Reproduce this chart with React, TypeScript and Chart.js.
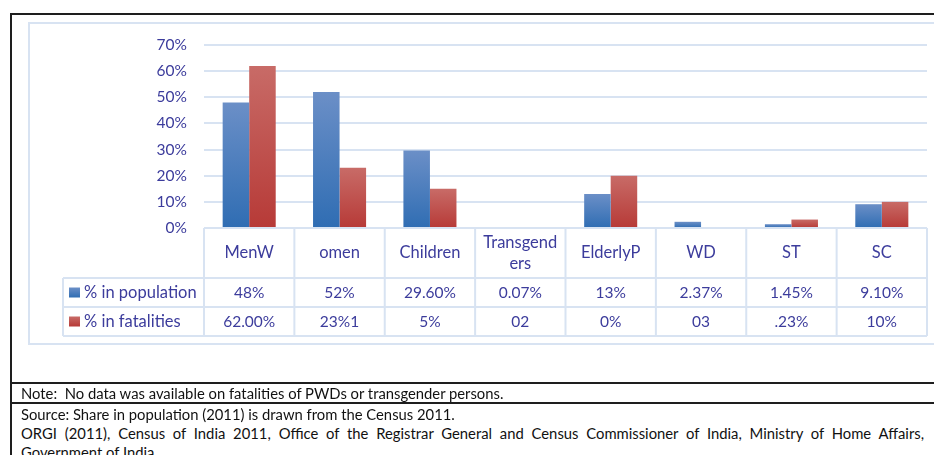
import React, { useEffect, useRef } from 'react';
import { Chart, registerables } from 'chart.js';

Chart.register(...registerables);

// ---- data ----
const categories: string[][] = [['MenW'], ['omen'], ['Children'], ['Transgend', 'ers'], ['ElderlyP'], ['WD'], ['ST'], ['SC']];
const seriesNames = ['% in population', '% in fatalities'];
const populationValues = [48, 52, 29.6, 0.07, 13, 2.37, 1.45, 9.1];
const fatalityValues = [62, 23, 15, 0, 20, 0, 3.23, 10];
const populationLabels = ['48%', '52%', '29.60%', '0.07%', '13%', '2.37%', '1.45%', '9.10%'];
const fatalityLabels = ['62.00%', '23%1', '5%', '02', '0%', '03', '.23%', '10%'];
const yMax = 70;
const yStep = 10;

const noteText = 'Note:  No data was available on fatalities of PWDs or transgender persons.';
const sourceText = 'Source: Share in population (2011) is drawn from the Census 2011.';
const orgiText = 'ORGI (2011), Census of India 2011, Office of the Registrar General and Census Commissioner of India, Ministry of Home Affairs,';
const govText = 'Government of India.';

// ---- styles ----
const TEXT = '#3c3c9c';
const LINE = '#d8e3f2';
const FONT = 'Lato, "Open Sans", sans-serif';
const BLUE_TOP = '#6b8fc7';
const BLUE_BOT = '#2f6db3';
const RED_TOP = '#c86b67';
const RED_BOT = '#b73a37';
const NUM_SIZE = 15.5;
const WORD_SIZE = 16.5;

const gradient = (top: string, bottom: string) => (c: any) => {
  const chart = c.chart;
  if (!chart.chartArea || c.type !== 'data') return bottom;
  const ys = chart.scales.y;
  const y = ys.getPixelForValue(c.raw as number);
  const base = ys.getPixelForValue(0);
  if (base - y < 1) return bottom;
  const g = chart.ctx.createLinearGradient(0, y, 0, base);
  g.addColorStop(0, top);
  g.addColorStop(1, bottom);
  return g;
};

const tablePlugin = {
  id: 'dataTable',
  afterDraw(chart: any) {
    const ctx: CanvasRenderingContext2D = chart.ctx;
    const xs = chart.scales.x;
    const { left, right, bottom } = chart.chartArea;
    const n = categories.length;
    const w = (right - left) / n;
    const top = bottom;
    const hdrB = top + 50;
    const r1B = top + 79;
    const r2B = top + 108;
    const legL = 63;
    ctx.save();
    ctx.strokeStyle = LINE;
    ctx.lineWidth = 2;
    ctx.beginPath();
    ctx.moveTo(left, top); ctx.lineTo(right, top);
    [hdrB, r1B, r2B].forEach((y) => { ctx.moveTo(legL, y); ctx.lineTo(right, y); });
    for (let i = 0; i <= n; i++) {
      const x = left + i * w;
      ctx.moveTo(x, top); ctx.lineTo(x, r2B);
    }
    ctx.moveTo(legL, hdrB); ctx.lineTo(legL, r2B);
    ctx.stroke();

    ctx.fillStyle = TEXT;
    ctx.textAlign = 'center';
    ctx.textBaseline = 'middle';
    categories.forEach((lines, i) => {
      const cx = xs.getPixelForValue(i);
      const cy = (top + hdrB) / 2;
      const lh = 21;
      ctx.font = `${WORD_SIZE}px ${FONT}`;
      lines.forEach((t, j) => {
        ctx.fillText(t, cx, cy + (j - (lines.length - 1) / 2) * lh);
      });
      ctx.font = `${NUM_SIZE}px ${FONT}`;
      ctx.fillText(populationLabels[i], cx, (hdrB + r1B) / 2);
      ctx.fillText(fatalityLabels[i], cx, (r1B + r2B) / 2);
    });

    // legend keys
    const rows = [(hdrB + r1B) / 2, (r1B + r2B) / 2];
    const keyCols = [BLUE_BOT, RED_BOT];
    const keyTops = [BLUE_TOP, RED_TOP];
    ctx.font = `${WORD_SIZE}px ${FONT}`;
    rows.forEach((cy, k) => {
      const g = ctx.createLinearGradient(0, cy - 5, 0, cy + 5);
      g.addColorStop(0, keyTops[k]);
      g.addColorStop(1, keyCols[k]);
      ctx.fillStyle = g;
      ctx.fillRect(69, cy - 5, 11, 10);
      ctx.fillStyle = TEXT;
      ctx.textAlign = 'left';
      ctx.fillText(seriesNames[k], 84, cy);
    });
    ctx.restore();
  },
};

export default function App() {
  const ref = useRef<HTMLCanvasElement>(null);
  useEffect(() => {
    if (!ref.current) return;
    const chart = new Chart(ref.current, {
      type: 'bar',
      data: {
        labels: categories,
        datasets: [
          { label: seriesNames[0], data: populationValues, backgroundColor: gradient(BLUE_TOP, BLUE_BOT), borderWidth: 0 },
          { label: seriesNames[1], data: fatalityValues, backgroundColor: gradient(RED_TOP, RED_BOT), borderWidth: 0 },
        ],
      },
      options: {
        animation: false,
        responsive: false,
        maintainAspectRatio: false,
        datasets: { bar: { categoryPercentage: 0.587, barPercentage: 1 } },
        layout: { padding: { top: 45, bottom: 155, left: 0, right: 7 } },
        plugins: { legend: { display: false }, tooltip: { enabled: false }, title: { display: false } },
        scales: {
          x: { display: false },
          y: {
            min: 0,
            max: yMax,
            afterFit: (s: any) => { s.width = 204; },
            border: { display: false },
            grid: { color: LINE, lineWidth: 2, drawTicks: false },
            ticks: {
              stepSize: yStep,
              padding: 17,
              color: TEXT,
              font: { family: FONT, size: NUM_SIZE },
              callback: (v: any) => `${v}%`,
            },
          },
        },
      },
      plugins: [tablePlugin],
    });
    return () => chart.destroy();
  }, []);

  const noteStyle: React.CSSProperties = {
    position: 'absolute', left: 21, fontFamily: FONT, fontSize: 14.8, color: '#111', whiteSpace: 'pre', lineHeight: '19px',
  };

  return (
    <div style={{ position: 'fixed', left: 0, top: 0, width: 934, height: 455, background: '#fff', overflow: 'hidden' }}>
      <div style={{ position: 'absolute', left: 28, top: 22, width: 920, height: 323, border: `2px solid ${LINE}`, boxSizing: 'border-box' }} />
      <canvas ref={ref} width={934} height={383} style={{ position: 'absolute', left: 0, top: 0, width: 934, height: 383 }} />
      <div style={{ position: 'absolute', left: 10, top: 13, right: 0, height: 2, background: '#1e1e1e' }} />
      <div style={{ position: 'absolute', left: 10, top: 13, width: 2, height: 460, background: '#1e1e1e' }} />
      <div style={{ position: 'absolute', left: 10, top: 382, right: 0, height: 2, background: '#1e1e1e' }} />
      <div style={{ position: 'absolute', left: 10, top: 402, right: 0, height: 2, background: '#1e1e1e' }} />
      <div style={{ ...noteStyle, top: 384 }}>{noteText}</div>
      <div style={{ ...noteStyle, top: 405 }}>{sourceText}</div>
      <div style={{ ...noteStyle, top: 424, width: 903, whiteSpace: 'normal', textAlign: 'justify', textAlignLast: 'justify' }}>{orgiText}</div>
      <div style={{ ...noteStyle, top: 443 }}>{govText}</div>
    </div>
  );
}
